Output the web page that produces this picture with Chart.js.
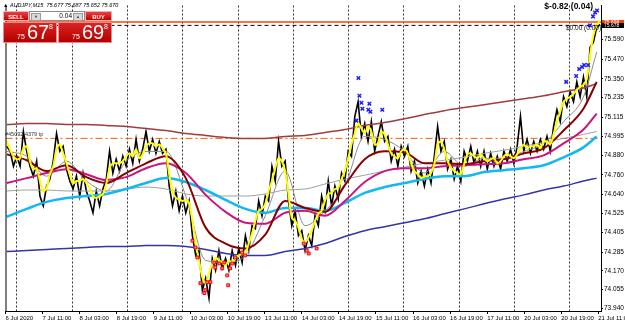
<!DOCTYPE html>
<html>
<head>
<meta charset="utf-8">
<script src="https://cdn.jsdelivr.net/npm/chart.js@4.4.1/dist/chart.umd.min.js"></script>
<style>
  html, body { margin: 0; padding: 0; background: #fff; }
  #wrap { position: relative; width: 625px; height: 324px; overflow: hidden; font-family: "Liberation Sans", Arial, sans-serif; }
  #chart { position: absolute; left: 0; top: 0; }
  .p { position: absolute; box-sizing: border-box; }
  .redbtn { top: 11px; height: 10px; background: linear-gradient(#ea4040, #c40000); color: #fff; font-size: 6px; font-weight: bold; text-align: center; line-height: 10px; border: 1px solid #f3b0b0; }
  #sell { left: 3px; width: 26px; }
  #buy { left: 85px; width: 27px; }
  #lot { left: 29px; top: 11px; width: 56px; height: 10px; background: #fff; border: 1px solid #8a8a8a; }
  .arr { position: absolute; top: 1px; width: 8px; height: 6px; background: #d8d8d8; border: 1px solid #999; font-size: 4px; line-height: 6px; text-align: center; color: #333; }
  #lotv { position: absolute; right: 12px; top: 0; font-size: 6.5px; line-height: 8px; color: #000; }
  .big { top: 22px; height: 21px; width: 54px; background: linear-gradient(#dc2424, #b40000); color: #fff; border: 1px solid #e88; }
  .big span { position: absolute; white-space: nowrap; }
  .s75 { left: 13px; top: 10px; font-size: 7px; line-height: 7px; }
  .sbig { left: 23px; top: -1px; font-size: 20px; line-height: 20px; }
  .s8 { left: 45px; top: 0px; font-size: 7px; line-height: 7px; }
</style>
</head>
<body>
<div id="wrap">
  <canvas id="chart" width="625" height="324"></canvas>
  <div class="p redbtn" id="sell">SELL</div>
  <div class="p" id="lot"><div class="arr" style="left:1px">▼</div><span id="lotv">0.04</span><div class="arr" style="right:1px">▲</div></div>
  <div class="p redbtn" id="buy">BUY</div>
  <div class="p big" style="left:3px"><span class="s75">75</span><span class="sbig">67</span><span class="s8">8</span></div>
  <div class="p big" style="left:58px"><span class="s75">75</span><span class="sbig">69</span><span class="s8">8</span></div>
</div>
<script>
// AUDJPY M15 snapshot

const HEADER = '\u25B2 AUDJPY,M15  75.677 75.687 75.652 75.670';
const PROFIT_TEXT = '$-0.82 (0.04)';
const ORDER_TEXT = '$0.00 (0.00)';
const TP_TEXT = '#45092 4379 tp';

const TIME_LABELS = ['6 Jul 2020', '7 Jul 11:00', '8 Jul 03:00', '8 Jul 19:00', '9 Jul 11:00', '10 Jul 03:00',
  '10 Jul 19:00', '13 Jul 11:00', '14 Jul 03:00', '14 Jul 19:00', '15 Jul 11:00', '16 Jul 03:00',
  '16 Jul 19:00', '17 Jul 11:00', '20 Jul 03:00', '20 Jul 19:00', '21 Jul 11:00'];
const Y_TICKS = [75.590, 75.470, 75.350, 75.235, 75.115, 74.995, 74.880, 74.760, 74.640, 74.525,
  74.405, 74.285, 74.170, 74.055, 73.940];

const ASK = 75.698;
const BID = 75.678;
const TP_LEVEL = 74.984;

// price, one sample per ~1.4 h
const PRICE = [74.935, 74.905, 74.813, 74.874, 74.813, 75.026, 74.905, 74.813, 74.752, 74.844,
  74.630, 74.570, 74.691, 74.734, 74.844, 75.014, 74.905, 74.935, 74.795, 74.722,
  74.673, 74.752, 74.630, 74.771, 74.661, 74.600, 74.527, 74.661, 74.570, 74.673,
  74.734, 74.905, 74.771, 74.856, 74.783, 74.874, 74.813, 74.917, 74.831, 74.978,
  74.844, 74.917, 75.026, 74.905, 74.978, 74.892, 74.965, 74.892, 74.917, 74.691,
  74.570, 74.661, 74.539, 74.630, 74.527, 74.600, 74.387, 74.265, 74.295, 74.052,
  74.125, 74.003, 74.247, 74.174, 74.295, 74.186, 74.247, 74.174, 74.295, 74.204,
  74.308, 74.222, 74.387, 74.295, 74.448, 74.430, 74.600, 74.509, 74.630, 74.600,
  74.813, 74.722, 74.965, 74.813, 74.844, 74.600, 74.448, 74.539, 74.387, 74.417,
  74.295, 74.387, 74.326, 74.509, 74.448, 74.630, 74.539, 74.722, 74.570, 74.691,
  74.612, 74.771, 74.722, 74.905, 74.874, 75.118, 75.209, 74.996, 75.075, 74.965,
  75.087, 74.905, 74.996, 75.087, 74.965, 74.996, 74.844, 74.917, 74.813, 74.935,
  74.874, 74.935, 74.783, 74.844, 74.710, 74.783, 74.691, 74.795, 74.710, 74.874,
  75.057, 74.905, 74.965, 74.795, 74.856, 74.734, 74.813, 74.722, 74.905, 74.844,
  74.935, 74.831, 74.905, 74.813, 74.905, 74.795, 74.892, 74.813, 74.874, 74.795,
  74.905, 74.844, 74.917, 74.831, 74.935, 75.118, 74.905, 74.978, 74.892, 74.965,
  74.905, 74.978, 74.917, 74.996, 74.905, 75.057, 75.160, 75.087, 75.239, 75.179,
  75.270, 75.209, 75.331, 75.239, 75.361, 75.239, 75.544, 75.574, 75.666, 75.684];

// fast yellow average, same sampling as PRICE
const MA_FAST = [74.965, 74.917, 74.874, 74.856, 74.862, 74.923, 74.935, 74.844, 74.795, 74.801,
  74.722, 74.661, 74.679, 74.764, 74.813, 74.917, 74.947, 74.892, 74.831, 74.764,
  74.710, 74.722, 74.722, 74.734, 74.710, 74.679, 74.630, 74.618, 74.630, 74.643,
  74.704, 74.801, 74.831, 74.831, 74.831, 74.844, 74.874, 74.892, 74.874, 74.917,
  74.862, 74.886, 74.935, 74.953, 74.953, 74.935, 74.947, 74.923, 74.892, 74.764,
  74.661, 74.618, 74.612, 74.600, 74.606, 74.588, 74.478, 74.338, 74.235, 74.131,
  74.095, 74.155, 74.216, 74.253, 74.235, 74.222, 74.204, 74.235, 74.216, 74.253,
  74.265, 74.277, 74.283, 74.338, 74.399, 74.478, 74.539, 74.551, 74.582, 74.661,
  74.722, 74.801, 74.862, 74.844, 74.783, 74.643, 74.496, 74.478, 74.436, 74.369,
  74.344, 74.375, 74.417, 74.478, 74.521, 74.539, 74.600, 74.643, 74.649, 74.673,
  74.679, 74.734, 74.783, 74.862, 74.947, 75.014, 75.075, 75.045, 75.014, 75.057,
  75.026, 74.947, 74.953, 75.026, 75.008, 74.947, 74.892, 74.874, 74.862, 74.905,
  74.917, 74.892, 74.831, 74.783, 74.764, 74.740, 74.752, 74.752, 74.771, 74.825,
  74.947, 74.965, 74.917, 74.844, 74.807, 74.783, 74.771, 74.764, 74.825, 74.886,
  74.892, 74.874, 74.862, 74.886, 74.862, 74.844, 74.856, 74.862, 74.831, 74.844,
  74.874, 74.886, 74.874, 74.862, 74.886, 74.923, 74.947, 74.923, 74.935, 74.935,
  74.947, 74.923, 74.965, 74.965, 74.947, 75.008, 75.087, 75.148, 75.209, 75.227,
  75.239, 75.258, 75.282, 75.300, 75.313, 75.349, 75.495, 75.617, 75.678, 75.708];

// slower averages, sampled every ~8.5 h (last point at the final bar)
const MA_SAMPLE_AT = [1, 7, 13, 19, 25, 31, 37, 43, 49, 55, 61, 67, 73, 79, 85, 91, 97, 103, 109, 115,
  121, 127, 133, 139, 145, 151, 157, 163, 169, 175, 179];
const MA_GRAY_FAST = [74.904, 74.874, 74.752, 74.844, 74.722, 74.661, 74.844, 74.904, 74.904, 74.630,
  74.235, 74.222, 74.265, 74.509, 74.783, 74.448, 74.539, 74.691, 74.996, 74.978,
  74.904, 74.771, 74.904, 74.813, 74.862, 74.862, 74.904, 74.953, 75.087, 75.239, 75.514];
const MA_MAROON = [74.886, 74.850, 74.783, 74.819, 74.746, 74.710, 74.771, 74.831, 74.874, 74.740,
  74.436, 74.338, 74.308, 74.393, 74.600, 74.557, 74.533, 74.697, 74.856, 74.905,
  74.898, 74.831, 74.831, 74.825, 74.844, 74.856, 74.892, 74.923, 75.032, 75.166, 75.331];
const MA_MAGENTA = [74.710, 74.740, 74.771, 74.795, 74.764, 74.728, 74.746, 74.801, 74.831, 74.771,
  74.637, 74.533, 74.466, 74.460, 74.527, 74.539, 74.509, 74.600, 74.716, 74.783,
  74.801, 74.801, 74.813, 74.819, 74.825, 74.831, 74.856, 74.880, 74.953, 75.038, 75.136];
const MA_CYAN = [74.503, 74.551, 74.594, 74.618, 74.630, 74.643, 74.673, 74.710, 74.740, 74.716,
  74.667, 74.606, 74.551, 74.527, 74.557, 74.557, 74.539, 74.588, 74.649, 74.685,
  74.710, 74.734, 74.752, 74.752, 74.777, 74.789, 74.801, 74.819, 74.868, 74.929, 74.996];
const MA_GRAY_SLOW = [74.661, 74.667, 74.667, 74.661, 74.661, 74.661, 74.673, 74.685, 74.673, 74.643,
  74.630, 74.630, 74.630, 74.643, 74.667, 74.673, 74.704, 74.734, 74.758, 74.783,
  74.807, 74.831, 74.850, 74.868, 74.892, 74.911, 74.935, 74.959, 74.984, 75.008, 75.026];
const MA_BROWN = [75.069, 75.075, 75.075, 75.069, 75.069, 75.063, 75.057, 75.045, 75.032, 75.014,
  75.002, 74.990, 74.984, 74.984, 74.996, 75.002, 75.020, 75.038, 75.063, 75.081,
  75.105, 75.130, 75.154, 75.173, 75.191, 75.209, 75.227, 75.246, 75.270, 75.294, 75.319];
const MA_NAVY = [74.289, 74.295, 74.302, 74.308, 74.314, 74.320, 74.320, 74.326, 74.326, 74.320,
  74.302, 74.277, 74.265, 74.265, 74.289, 74.308, 74.338, 74.381, 74.417, 74.442,
  74.466, 74.490, 74.521, 74.551, 74.582, 74.612, 74.637, 74.667, 74.691, 74.722, 74.740];

// fractal / signal marks
const RED_MARK_AT = [57.0, 57.9, 58.5, 59.4, 60.6, 60.9, 61.5, 62.4, 63.6, 63.9, 65.1, 66.0, 66.6, 67.5,
  67.8, 68.4, 69.0, 69.9, 72.0, 72.9, 90.6, 91.5, 92.1, 94.5];
const RED_MARK_PRICE = [74.356, 74.314, 74.253, 74.095, 74.034, 74.052, 74.101, 74.101, 74.222, 74.192,
  74.216, 74.186, 74.222, 74.143, 74.082, 74.186, 74.216, 74.253, 74.283, 74.265,
  74.338, 74.295, 74.277, 74.308];
const BLUE_MARK_AT = [107.1, 107.4, 108.0, 108.3, 106.5, 110.4, 110.1, 110.7, 114.3, 169.8, 172.8, 173.7,
  174.6, 175.2, 176.4, 177.0, 177.9, 178.5, 179.1];
const BLUE_MARK_PRICE = [75.355, 75.246, 75.203, 75.166, 75.093, 75.197, 75.160, 75.148, 75.160, 75.331,
  75.367, 75.410, 75.422, 75.434, 75.434, 75.678, 75.733, 75.757, 75.769];

const X_MIN = 0.6, X_MAX = 180.3;
const Y_MIN = 73.924, Y_MAX = 75.800;
const LABEL_START = 0.6, LABEL_STEP = 11.18;
const GRID_START = 3.9, GRID_STEP = 16.68, GRID_COUNT = 11;

const NARROW = '"Liberation Sans Narrow", "Liberation Sans", Arial, sans-serif';

function series(xs, ys) {
  return ys.map((v, i) => ({ x: xs[i], y: v }));
}
function seq(ys) {
  return ys.map((v, i) => ({ x: i + 1, y: v }));
}
function level(v) {
  return [{ x: X_MIN, y: v }, { x: X_MAX, y: v }];
}
function maLine(data, color, width, order) {
  return { data: series(MA_SAMPLE_AT, data), borderColor: color, borderWidth: width, pointRadius: 0,
    cubicInterpolationMode: 'monotone', order };
}

// dotted vertical separators, terminal-style
const vgrid = {
  id: 'vgrid',
  beforeDatasetsDraw(chart) {
    const ctx = chart.ctx;
    const a = chart.chartArea;
    const xs = chart.scales.x;
    ctx.save();
    ctx.strokeStyle = '#333';
    ctx.lineWidth = 1;
    ctx.setLineDash([2, 2]);
    for (let i = 0; i < GRID_COUNT; i++) {
      const px = Math.round(xs.getPixelForValue(GRID_START + i * GRID_STEP)) + 0.5;
      ctx.beginPath();
      ctx.moveTo(px, a.top);
      ctx.lineTo(px, a.bottom);
      ctx.stroke();
    }
    ctx.restore();
  }
};

const overlay = {
  id: 'overlay',
  afterDraw(chart) {
    const ctx = chart.ctx;
    const a = chart.chartArea;
    const ys = chart.scales.y;
    ctx.save();
    ctx.strokeStyle = '#000';
    ctx.lineWidth = 1;
    ctx.beginPath();
    ctx.moveTo(a.left + 0.5, a.top);
    ctx.lineTo(a.left + 0.5, a.bottom);
    ctx.stroke();

    ctx.fillStyle = '#000';
    ctx.textBaseline = 'top';
    ctx.font = 'italic 5.5px ' + NARROW;
    ctx.fillText(HEADER, 3, 2.5);

    ctx.font = 'bold 8.5px "Liberation Sans", Arial, sans-serif';
    ctx.textAlign = 'right';
    ctx.fillText(PROFIT_TEXT, 593, 2);

    ctx.textAlign = 'left';
    ctx.font = '6.5px ' + NARROW;
    ctx.fillText(ORDER_TEXT, 566, 25);

    const tpY = ys.getPixelForValue(TP_LEVEL);
    ctx.fillStyle = '#333';
    ctx.textBaseline = 'bottom';
    ctx.font = '5.5px ' + NARROW;
    ctx.fillText(TP_TEXT, 5, tpY - 1);

    // ask / bid price tags on the axis
    const tags = [[ASK, '#ff3c00'], [BID, '#000']];
    ctx.textBaseline = 'middle';
    ctx.font = '5px ' + NARROW;
    tags.forEach(([v, col]) => {
      const py = Math.round(ys.getPixelForValue(v));
      ctx.fillStyle = col;
      ctx.fillRect(a.right + 1, py - 2, 22, 5);
      ctx.fillStyle = '#fff';
      ctx.fillText(v.toFixed(3), a.right + 3, py + 0.5);
    });
    ctx.restore();
  }
};

new Chart(document.getElementById('chart'), {
  type: 'line',
  data: {
    datasets: [
      { data: series(BLUE_MARK_AT, BLUE_MARK_PRICE), showLine: false, pointStyle: 'crossRot', pointRadius: 2.5,
        pointBorderColor: '#1e1eff', pointBorderWidth: 1.5, order: 0 },
      { data: series(RED_MARK_AT, RED_MARK_PRICE), showLine: false, pointStyle: 'rect', pointRadius: 2,
        pointBorderColor: '#ff0000', pointBackgroundColor: '#ff8080', pointBorderWidth: 1, order: 0 },
      { data: seq(MA_FAST), borderColor: '#ffff00', borderWidth: 2, pointRadius: 0, tension: 0.3, order: 1 },
      maLine(MA_MAROON, '#850000', 2, 2),
      maLine(MA_MAGENTA, '#c8157f', 2, 3),
      maLine(MA_CYAN, '#12b8f0', 2.5, 4),
      maLine(MA_GRAY_SLOW, '#a0a0a0', 1, 5),
      maLine(MA_BROWN, '#a03c3c', 1.5, 6),
      maLine(MA_NAVY, '#3434a8', 1.5, 7),
      maLine(MA_GRAY_FAST, '#8c8c8c', 1, 8),
      { data: seq(PRICE), borderColor: '#000', borderWidth: 1.6, pointRadius: 0, tension: 0, order: 9 },
      { data: level(TP_LEVEL), borderColor: '#ff5a00', borderWidth: 1, borderDash: [7, 3, 2, 3], pointRadius: 0, order: 10 },
      { data: level(ASK), borderColor: '#ff4500', borderWidth: 1.5, pointRadius: 0, order: 10 },
      { data: level(BID), borderColor: '#000', borderWidth: 1, borderDash: [4, 3], pointRadius: 0, order: 10 }
    ]
  },
  options: {
    responsive: false,
    animation: false,
    events: [],
    layout: { padding: { left: 2, top: 3, right: 0, bottom: 0 } },
    plugins: { legend: { display: false }, tooltip: { enabled: false } },
    scales: {
      x: {
        type: 'linear', position: 'bottom', min: X_MIN, max: X_MAX,
        afterBuildTicks: s => { s.ticks = TIME_LABELS.map((_, i) => ({ value: LABEL_START + i * LABEL_STEP })); },
        afterFit: s => { s.height = 13; s.paddingLeft = 0; s.paddingRight = 0; },
        ticks: { autoSkip: false, maxRotation: 0, align: 'start', padding: 1, color: '#000',
          font: { size: 6, family: NARROW }, callback: (v, i) => TIME_LABELS[i] },
        grid: { drawOnChartArea: false, tickLength: 3, color: '#000' },
        border: { color: '#000', width: 1 }
      },
      y: {
        type: 'linear', position: 'right', min: Y_MIN, max: Y_MAX,
        afterBuildTicks: s => { s.ticks = Y_TICKS.map(v => ({ value: v })); },
        afterFit: s => { s.width = 24; s.paddingTop = 0; s.paddingBottom = 0; },
        ticks: { padding: 1, color: '#000', font: { size: 6.5, family: NARROW }, callback: v => v.toFixed(3) },
        grid: { drawOnChartArea: false, tickLength: 2, color: '#000' },
        border: { color: '#000', width: 1 }
      }
    }
  },
  plugins: [vgrid, overlay]
});
</script>
</body>
</html>
